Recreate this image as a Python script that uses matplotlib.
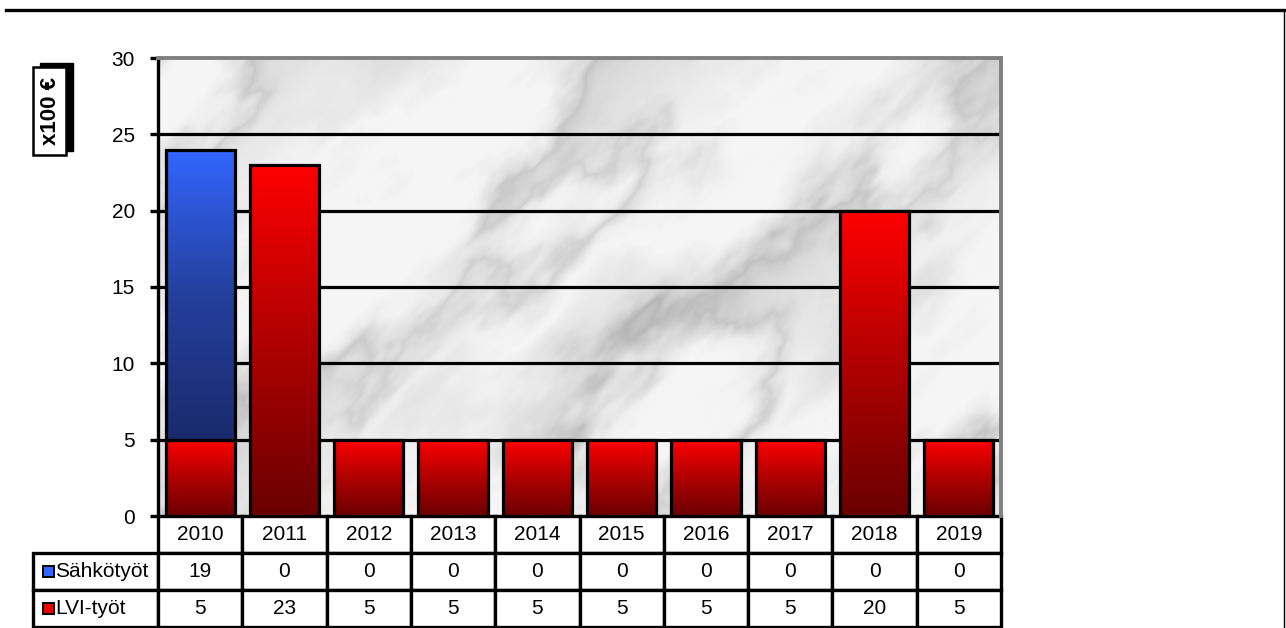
import numpy as np
import matplotlib
matplotlib.use("Agg")
import matplotlib.pyplot as plt
from matplotlib.lines import Line2D
from matplotlib.patches import Rectangle
from matplotlib.colors import LinearSegmentedColormap

plt.rcParams['font.family'] = ['Liberation Sans', 'DejaVu Sans']

years = ['2010', '2011', '2012', '2013', '2014', '2015', '2016', '2017', '2018', '2019']
sahko = [19, 0, 0, 0, 0, 0, 0, 0, 0, 0]
lvi = [5, 23, 5, 5, 5, 5, 5, 5, 20, 5]
series_names = ['Sähkötyöt', 'LVI-työt']

red_cmap = LinearSegmentedColormap.from_list('red', ['#6a0000', '#b00000', '#ff0000'])
blue_cmap = LinearSegmentedColormap.from_list('blue', ['#1a2a6c', '#24409c', '#3366ff'])

W, H = 1286, 628
fig = plt.figure(figsize=(W / 100, H / 100), dpi=100)
ax = fig.add_axes([158 / W, 1 - 516 / H, 843 / W, 458 / H])

x = np.arange(len(years))
ax.set_xlim(-0.5, len(years) - 0.5)
ax.set_ylim(0, 30)


# marble-like background: hashed value noise (deterministic), only decoration
def lattice(i, j):
    return np.modf(np.abs(np.sin(i * 127.1 + j * 311.7) * 43758.5453))[0]


def value_noise(px, py):
    i0, j0 = np.floor(px), np.floor(py)
    fx, fy = px - i0, py - j0
    fx = fx * fx * (3 - 2 * fx)
    fy = fy * fy * (3 - 2 * fy)
    a = lattice(i0, j0)
    b = lattice(i0 + 1, j0)
    c = lattice(i0, j0 + 1)
    d = lattice(i0 + 1, j0 + 1)
    return (a * (1 - fx) + b * fx) * (1 - fy) + (c * (1 - fx) + d * fx) * fy


gx, gy = np.meshgrid(np.arange(0, 843, 1.0), np.arange(0, 458, 1.0))
du, dv = (gx + gy) * 0.707, (gx - gy) * 0.707
fbm = np.zeros_like(gx)
amp, scale = 0.5, 1 / 70
for _ in range(5):
    fbm += amp * value_noise(du * scale, dv * scale * 0.45)
    amp *= 0.5
    scale *= 2.0
veins = np.abs(np.sin(du * 0.012 + 4.0 * fbm))
marble = 0.96 - 0.14 * (1 - veins) ** 2.5 - 0.32 * np.clip(fbm - 0.45, 0, 1)
ax.imshow(marble, cmap='gray', vmin=0, vmax=1, extent=(-0.5, len(years) - 0.5, 0, 30),
          aspect='auto', zorder=0, interpolation='bilinear')

for yv in [5, 10, 15, 20, 25]:
    ax.axhline(yv, color='black', lw=2.3, zorder=1)


def gradient_bar(xc, bottom, height, cmap):
    if height <= 0:
        return
    bar = ax.bar(xc, height, bottom=bottom, width=0.82, facecolor='none',
                 edgecolor='black', linewidth=2.3, zorder=3)[0]
    grad = np.linspace(0, 1, 256).reshape(-1, 1)
    im = ax.imshow(grad, cmap=cmap, origin='lower', aspect='auto', zorder=2,
                   extent=(xc - 0.41, xc + 0.41, bottom, bottom + height))
    im.set_clip_path(bar)


for i in range(len(years)):
    gradient_bar(x[i], 0, lvi[i], red_cmap)
    gradient_bar(x[i], lvi[i], sahko[i], blue_cmap)

# spines
for side in ['top', 'right']:
    ax.spines[side].set_color('#808080')
    ax.spines[side].set_linewidth(2.8)
ax.spines['left'].set_linewidth(2.4)
ax.spines['bottom'].set_visible(False)

ax.set_yticks([0, 5, 10, 15, 20, 25, 30])
ax.tick_params(axis='y', labelsize=15, length=6, width=2.4, pad=10.5)
ax.set_xticks([])

# data table
cell_text = [[series_names[0]] + [str(v) for v in sahko],
             [series_names[1]] + [str(v) for v in lvi]]
col_labels = [''] + years
tb_h = 111 / 458
tb_l = (33 - 158) / 843
tbl = ax.table(cellText=cell_text, colLabels=col_labels, cellLoc='center',
               colWidths=[-tb_l] + [0.1] * len(years),
               bbox=[tb_l, -tb_h, 1 - tb_l, tb_h])
tbl.auto_set_font_size(False)
tbl.set_fontsize(15)
for (r, c), cell in tbl.get_celld().items():
    cell.set_linewidth(2.4)
    cell.set_edgecolor('black')
    if r == 0 and c == 0:
        cell.set_visible(False)
    if c == 0 and r > 0:
        cell.get_text().set_ha('left')
        cell.PAD = 0.18

# legend keys inside row label cells
for r, col in [(1, '#3366ff'), (2, '#ee0000')]:
    yc = -tb_h + tb_h * (2.5 - r) / 3
    ax.add_patch(Rectangle(((43 - 158) / 843, yc - 5.5 / 458), 11 / 843, 11 / 458,
                           transform=ax.transAxes, facecolor=col, edgecolor='black',
                           lw=1.4, clip_on=False, zorder=5))

# y-axis unit label with shadow box
fig.add_artist(Rectangle((40 / W, 1 - 151 / H), 33 / W, 88 / H, transform=fig.transFigure,
                         facecolor='black', edgecolor='black', lw=1))
fig.add_artist(Rectangle((33 / W, 1 - 155 / H), 33 / W, 88 / H, transform=fig.transFigure,
                         facecolor='white', edgecolor='black', lw=1.8))
fig.text(50 / W, 1 - 111 / H, 'x100 €', rotation=90, ha='center', va='center', fontsize=16,
         fontweight='bold', color='black')

# page frame lines
fig.add_artist(Line2D([6 / W, 1], [1 - 10 / H] * 2, color='black', lw=2.4))
fig.add_artist(Line2D([1284 / W] * 2, [0, 1 - 10 / H], color='black', lw=1.0))

fig.savefig('out.png', dpi=100)
